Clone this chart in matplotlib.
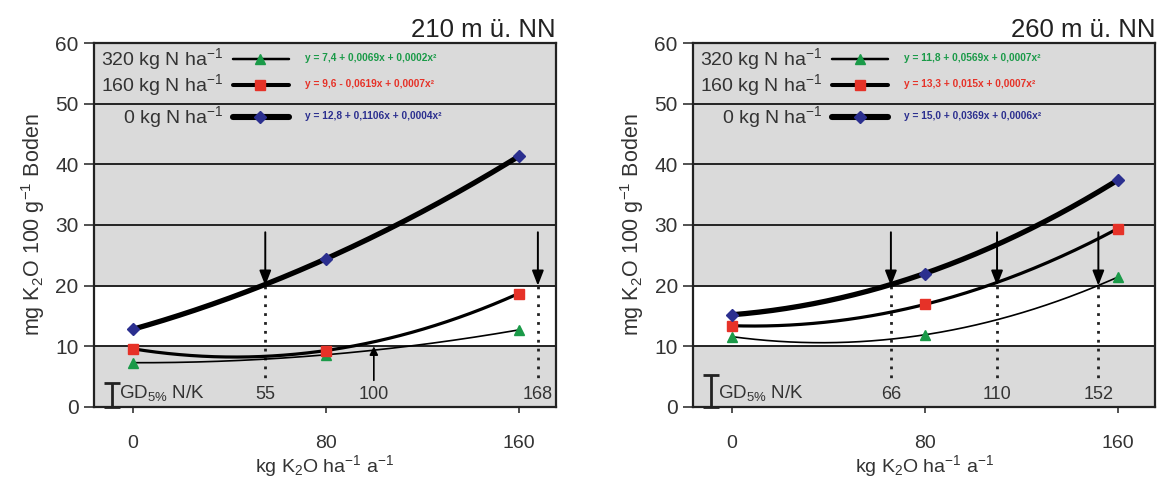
import numpy as np
import matplotlib
matplotlib.use("Agg")
import matplotlib.pyplot as plt

plt.rcParams["font.family"] = ["Liberation Sans", "DejaVu Sans"]
plt.rcParams["mathtext.fontset"] = "custom"
plt.rcParams["mathtext.rm"] = "Liberation Sans"
plt.rcParams["mathtext.it"] = "Liberation Sans:italic"
plt.rcParams["mathtext.bf"] = "Liberation Sans:bold"

# ---------------- data ----------------
k_doses = [0, 80, 160]
n_labels = ["320 kg N ha$^{-1}$", "160 kg N ha$^{-1}$", "0 kg N ha$^{-1}$"]

# 210 m ü. NN
left_320 = [7.3, 8.6, 12.7]
left_160 = [9.6, 9.3, 18.7]
left_0 = [12.8, 24.4, 41.3]
left_eq = ["y = 7,4 + 0,0069x + 0,0002x²",
           "y = 9,6 - 0,0619x + 0,0007x²",
           "y = 12,8 + 0,1106x + 0,0004x²"]
left_arrows_down = [55, 168]
left_arrows_up = [100]
left_lsd = 4.0

# 260 m ü. NN
right_320 = [11.6, 11.9, 21.4]
right_160 = [13.4, 16.9, 29.4]
right_0 = [15.2, 22.0, 37.4]
right_eq = ["y = 11,8 + 0,0569x + 0,0007x²",
            "y = 13,3 + 0,015x + 0,0007x²",
            "y = 15,0 + 0,0369x + 0,0006x²"]
right_arrows_down = [66, 110, 152]
right_arrows_up = []
right_lsd = 5.2

titles = ["210 m ü. NN", "260 m ü. NN"]
x_ticks = [0, 80, 160]
y_ticks = [0, 10, 20, 30, 40, 50, 60]

# ---------------- style ----------------
colors = ["#1a9a48", "#e63228", "#2b2f8f"]
markers = ["^", "s", "D"]
lws = [1.2, 2.3, 3.8]
gray = "#dadada"
txtc = "#333333"

fig = plt.figure(figsize=(11.59, 4.87), dpi=100)
ax_l = fig.add_axes([0.0811, 0.1643, 0.3986, 0.7474])
ax_r = fig.add_axes([0.598, 0.1643, 0.3986, 0.7474])


def draw(ax, series, eqs, arrows_down, arrows_up, lsd, title):
    xmin, xmax = -16, 175.5
    ax.set_xlim(xmin, xmax)
    ax.set_ylim(0, 60)
    ax.axhspan(0, 10, color=gray, zorder=0, lw=0)
    ax.axhspan(20, 60, color=gray, zorder=0, lw=0)
    for y in [10, 20, 30, 40, 50]:
        ax.axhline(y, color="#222222", lw=1.4, zorder=1)

    xs = np.linspace(0, 160, 200)
    for vals, c, m, lw in zip(series, colors, markers, lws):
        coef = np.polyfit(k_doses, vals, 2)
        ax.plot(xs, np.polyval(coef, xs), color="black", lw=lw, zorder=3,
                solid_capstyle="round")
        ax.plot(k_doses, vals, ls="none", marker=m, color=c, ms=7.5 if m != "D" else 6.5,
                mec=c, zorder=4)

    # legend rows
    rows_y = [57.4, 53.0, 47.8]
    for lab, eq, c, m, lw, yy in zip(n_labels, eqs, colors, markers, lws, rows_y):
        ax.text(37.5, yy, lab, ha="right", va="center", fontsize=14, color=txtc, zorder=5)
        ax.plot([41.5, 65], [yy, yy], color="black", lw=lw + 0.6, zorder=5,
                solid_capstyle="round")
        ax.plot([53], [yy], marker=m, color=c, ms=7.5 if m != "D" else 6.5, mec=c, zorder=6)
        ax.text(71.5, yy + 0.2, eq, ha="left", va="center", fontsize=7.3, color=c,
                fontweight="bold", zorder=5)

    # arrows
    for xa in arrows_down:
        ax.annotate("", xy=(xa, 20), xytext=(xa, 28.8),
                    arrowprops=dict(arrowstyle="-|>,head_length=0.9,head_width=0.35",
                                    color="black", lw=1.4, shrinkA=0, shrinkB=0), zorder=6)
        ax.plot([xa, xa], [20, 4.6], color="#222222", lw=2, ls=(0, (1, 2.2)), zorder=2)
        ax.text(xa, 0.6, str(xa), ha="center", va="bottom", fontsize=13, color=txtc, zorder=6)
    for xa in arrows_up:
        ax.annotate("", xy=(xa, 10), xytext=(xa, 4.4),
                    arrowprops=dict(arrowstyle="-|>,head_length=0.5,head_width=0.25",
                                    color="black", lw=1.2, shrinkA=0, shrinkB=0), zorder=6)
        ax.text(xa, 0.6, str(xa), ha="center", va="bottom", fontsize=13, color=txtc, zorder=6)

    # LSD bar
    ax.errorbar([-8.7], [lsd / 2], yerr=[lsd / 2], color="#222222", capsize=6,
                elinewidth=2, capthick=2, zorder=6, clip_on=False)
    ax.text(-5.6, 0.6, "GD$_{5\\%}$ N/K", ha="left", va="bottom", fontsize=13.5,
            color=txtc, zorder=6)

    ax.set_xticks(x_ticks)
    ax.set_yticks(y_ticks)
    ax.tick_params(axis="x", length=4, width=1.2, pad=16, labelsize=14, colors=txtc)
    ax.tick_params(axis="y", length=7, width=1.2, pad=4, labelsize=15, colors=txtc)
    for s in ax.spines.values():
        s.set_linewidth(1.6)
        s.set_color("#222222")
    ax.set_xlabel("kg K$_2$O ha$^{-1}$ a$^{-1}$", fontsize=14, color=txtc, labelpad=1)
    ax.set_ylabel("mg K$_2$O 100 g$^{-1}$ Boden", fontsize=15.5, color=txtc, labelpad=6)
    ax.set_title(title, loc="right", fontsize=18.5, color="#222222", pad=4)


draw(ax_l, [left_320, left_160, left_0], left_eq, left_arrows_down, left_arrows_up,
     left_lsd, titles[0])
draw(ax_r, [right_320, right_160, right_0], right_eq, right_arrows_down, right_arrows_up,
     right_lsd, titles[1])

fig.savefig("out.png", dpi=100)
